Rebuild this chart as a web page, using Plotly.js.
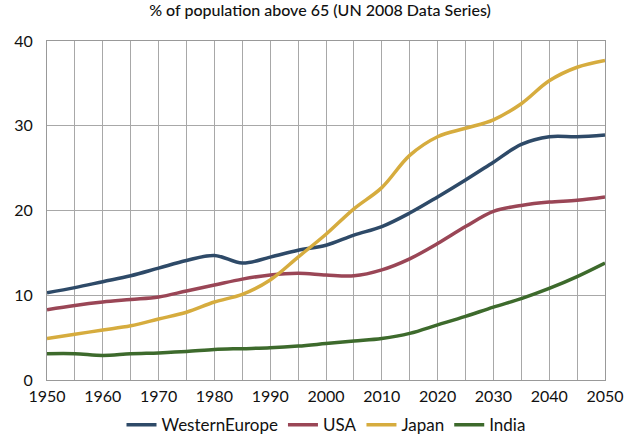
<!DOCTYPE html>
<html><head><meta charset="utf-8">
<script src="https://cdn.plot.ly/plotly-3.0.1.min.js"></script>
<style>html,body{margin:0;padding:0;background:#fff}#chart{width:640px;height:442px}</style>
</head><body><div id="chart"></div>
<script>
const years = [1950,1955,1960,1965,1970,1975,1980,1985,1990,1995,2000,2005,2010,2015,2020,2025,2030,2035,2040,2045,2050];
const westernEurope = [10.3,10.9,11.6,12.3,13.2,14.1,14.7,13.8,14.5,15.3,15.9,17.1,18.1,19.7,21.6,23.6,25.7,27.8,28.7,28.7,28.9];
const usa = [8.3,8.8,9.2,9.5,9.8,10.5,11.2,11.9,12.4,12.6,12.4,12.3,13.0,14.3,16.1,18.1,19.9,20.6,21.0,21.2,21.6];
const japan = [4.9,5.4,5.9,6.4,7.2,8.0,9.2,10.1,11.8,14.5,17.2,20.2,22.7,26.5,28.7,29.7,30.7,32.6,35.3,36.9,37.7];
const india = [3.1,3.1,2.9,3.1,3.2,3.35,3.6,3.7,3.8,4.0,4.3,4.6,4.9,5.5,6.5,7.5,8.6,9.6,10.8,12.2,13.8];
const seriesNames = ["WesternEurope","USA","Japan","India"];
const seriesColors = ["#2e4a68","#9a4656","#d6ac3e","#3d6a2c"];
const allSeries = [westernEurope, usa, japan, india];

const traces = allSeries.map((vals,i)=>({
  x: years, y: vals, name: seriesNames[i], type:'scatter', mode:'lines',
  line:{color: seriesColors[i], width:3.5, shape:'spline', smoothing:1}
}));

const layout = {
  width:640, height:442,
  margin:{l:47, r:35, t:41, b:62, autoexpand:false},
  paper_bgcolor:'#fff', plot_bgcolor:'#fff',
  font:{family:'Lato, "Open Sans", sans-serif', color:'#111', size:16},
  title:{text:'% of population above 65 (UN 2008 Data Series)', font:{size:16, color:'#111', weight:500}, x:0.5, xanchor:'center', y:0.99, yanchor:'top'},
  showlegend:true,
  legend:{orientation:'h', x:0.5, xanchor:'center', y:-0.08, yanchor:'top', font:{size:17}, itemwidth:30, traceorder:'normal'},
  xaxis:{range:[1950,2050], dtick:10, tick0:1950, showgrid:true, gridcolor:'#a8a8a8', gridwidth:1,
    minor:{dtick:5, showgrid:true, gridcolor:'#a8a8a8', gridwidth:1},
    showline:true, linecolor:'#999', linewidth:1, mirror:true, ticks:'', zeroline:false, tickfont:{size:16}, ticklabelstandoff:2},
  yaxis:{range:[0,40], dtick:10, showgrid:true, gridcolor:'#a8a8a8', gridwidth:1,
    showline:true, linecolor:'#999', linewidth:1, mirror:true, ticks:'', zeroline:false, tickfont:{size:16}, ticklabelstandoff:10},
  hovermode:false
};
Plotly.newPlot('chart', traces, layout, {displayModeBar:false, staticPlot:true});
</script></body></html>
